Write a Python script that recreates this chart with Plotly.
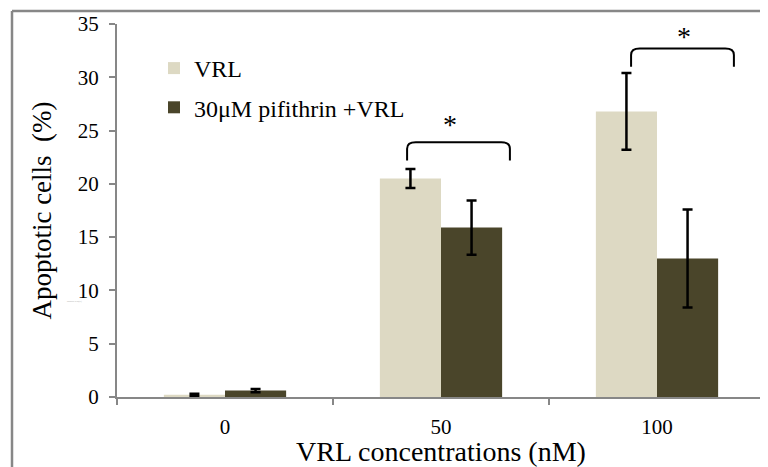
import plotly.graph_objects as go

categories = ["0", "50", "100"]
vrl_values = [0.2, 20.5, 26.8]
vrl_errors = [0.1, 0.9, 3.6]
pif_values = [0.6, 15.9, 13.0]
pif_errors = [0.15, 2.55, 4.6]
series_names = ["VRL", "30μM pifithrin +VRL"]
y_ticks = [0, 5, 10, 15, 20, 25, 30, 35]

# significance brackets: (x_left, x_right, y_end, y_top) in category-index units
brackets = [(0.843, 1.319, 22.2, 23.9), (1.880, 2.356, 31.0, 32.7)]
stars = [(1.042, 25.6), (2.125, 33.8)]

FONT = "Liberation Serif"
GRAY = "#878787"
PW, PH = 648, 373  # plot area size in px

fig = go.Figure()
fig.add_trace(go.Bar(
    x=categories, y=vrl_values, name=series_names[0], legendgroup="a",
    marker=dict(color="#DDD9C3", line=dict(width=0)),
    error_y=dict(type="data", array=vrl_errors, color="black", thickness=2.5, width=5),
))
fig.add_trace(go.Bar(
    x=categories, y=pif_values, name=series_names[1], legendgroup="b",
    marker=dict(color="#4A452A", line=dict(width=0)),
    error_y=dict(type="data", array=pif_errors, color="black", thickness=2.5, width=5),
))

shapes = []
for (xl, xr, ye, yt) in brackets:
    path = (f"M {xl},{ye} L {xl},{yt-0.6} Q {xl},{yt} {xl+0.04},{yt} "
            f"L {xr-0.04},{yt} Q {xr},{yt} {xr},{yt-0.6} L {xr},{ye}")
    shapes.append(dict(type="path", path=path, xref="x2", yref="y",
                       line=dict(color="black", width=2)))

# outer frame (left and top)
fx = (12 - 117) / PW
fy = (397 - 11) / PH
shapes.append(dict(type="line", xref="paper", yref="paper",
                   x0=fx, x1=fx, y0=-80 / PH, y1=fy,
                   line=dict(color=GRAY, width=2.5)))
shapes.append(dict(type="line", xref="paper", yref="paper",
                   x0=fx, x1=(770 - 117) / PW, y0=fy, y1=fy,
                   line=dict(color=GRAY, width=2.5)))

annotations = []
for (sx, sy) in stars:
    annotations.append(dict(x=sx, y=sy, xref="x2", yref="y", text="*", showarrow=False,
                            font=dict(family=FONT, size=28, color="black")))
annotations.append(dict(x=(66 - 117) / PW, y=(397 - 304) / PH, xref="paper", yref="paper",
                        text="apoptotic cells(%)", showarrow=False, borderpad=0,
                        font=dict(family=FONT, size=2, color="#999999")))

fig.update_layout(
    width=760, height=459,
    margin=dict(l=109, r=3, t=16, b=70, pad=0),
    paper_bgcolor="white", plot_bgcolor="white",
    barmode="group", bargap=0.434, bargroupgap=0,
    font=dict(family=FONT, color="black"),
    showlegend=True,
    legend=dict(x=37 / PW, y=(397 - 46) / PH, xanchor="left", yanchor="top",
                font=dict(family=FONT, size=24, color="black"),
                bgcolor="rgba(0,0,0,0)", itemsizing="constant", tracegroupgap=5),
    xaxis=dict(type="category", range=[-0.5, 2.5], showline=True, linecolor=GRAY, linewidth=2,
               ticks="outside", tickson="boundaries", ticklen=6, tickcolor=GRAY, tickwidth=2,
               tickfont=dict(family=FONT, size=21, color="black"), ticklabelstandoff=10,
               title=dict(text="VRL concentrations (nM)", font=dict(family=FONT, size=28, color="black"),
                          standoff=1),
               showgrid=False, zeroline=False, fixedrange=True),
    xaxis2=dict(type="linear", range=[-0.5, 2.5], overlaying="x", visible=False),
    yaxis=dict(range=[0, 35], tickvals=y_ticks, showline=True, linecolor=GRAY, linewidth=2,
               ticks="outside", ticklen=6, tickcolor=GRAY, tickwidth=2,
               tickfont=dict(family=FONT, size=21, color="black"), ticklabelstandoff=6,
               title=dict(text="Apoptotic cells  (%)", font=dict(family=FONT, size=27, color="black"),
                          standoff=18),
               showgrid=False, zeroline=False),
    shapes=shapes, annotations=annotations,
)
fig.write_html("out.html")
